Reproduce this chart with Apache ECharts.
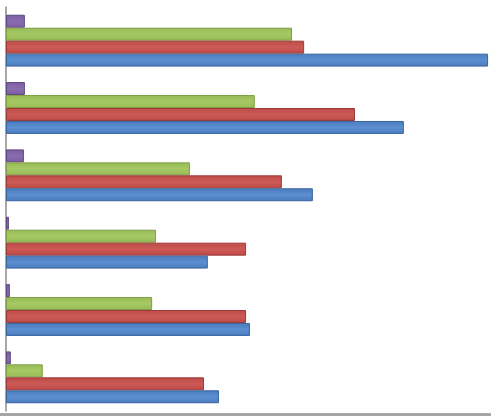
<!DOCTYPE html>
<html>
<head>
<meta charset="utf-8">
<style>html,body{margin:0;padding:0;background:#fff;}#c{width:491px;height:419px;}</style>
<script src="https://cdn.jsdelivr.net/npm/echarts@6/dist/echarts.min.js"></script>
</head>
<body>
<div id="c"></div>
<script>
// categories listed from bottom to top
var categories = ['1', '2', '3', '4', '5', '6'];
var seriesBlue   = [44.0, 50.4, 41.7, 63.4, 82.2, 99.6];
var seriesRed    = [40.9, 49.6, 49.6, 57.0, 72.1, 61.6];
var seriesGreen  = [7.6, 30.2, 31.0, 38.0, 51.4, 59.1];
var seriesPurple = [1.0, 0.8, 0.6, 3.7, 3.9, 3.9];

var chart = echarts.init(document.getElementById('c'));
function grad(c1, c2) {
  return new echarts.graphic.LinearGradient(0, 0, 0, 1, [
    {offset: 0, color: c1}, {offset: 0.5, color: c2}, {offset: 1, color: c1}
  ]);
}
function mk(name, data, c1, c2, border) {
  return {
    name: name, type: 'bar', data: data, barGap: '0%', barCategoryGap: '23%',
    itemStyle: {color: grad(c1, c2), borderColor: border, borderWidth: 1},
    emphasis: {disabled: true}, animation: false
  };
}
chart.setOption({
  animation: false,
  grid: {left: 6, right: 1, top: 7, bottom: 8},
  xAxis: {type: 'value', min: 0, max: 100, show: true,
    axisLine: {show: false}, axisTick: {show: false}, axisLabel: {show: false},
    splitLine: {show: false}},
  yAxis: {type: 'category', data: categories,
    axisLine: {show: true, lineStyle: {color: '#8a8a8a', width: 1.5}},
    axisTick: {show: false}, axisLabel: {show: false}},
  graphic: [{type: 'rect', shape: {x: 0, y: 413, width: 491, height: 3},
    style: {fill: '#a6a6a6'}, silent: true}],
  series: [
    mk('S4', seriesPurple, '#7a5ea0', '#8a6db0', '#5e4880'),
    mk('S3', seriesGreen, '#97bb55', '#a6c865', '#7f9e45'),
    mk('S2', seriesRed, '#bd4a47', '#cc5a56', '#9c3a38'),
    mk('S1', seriesBlue, '#4a7bbd', '#5b8fd0', '#3a659e')
  ]
});
</script>
</body>
</html>
